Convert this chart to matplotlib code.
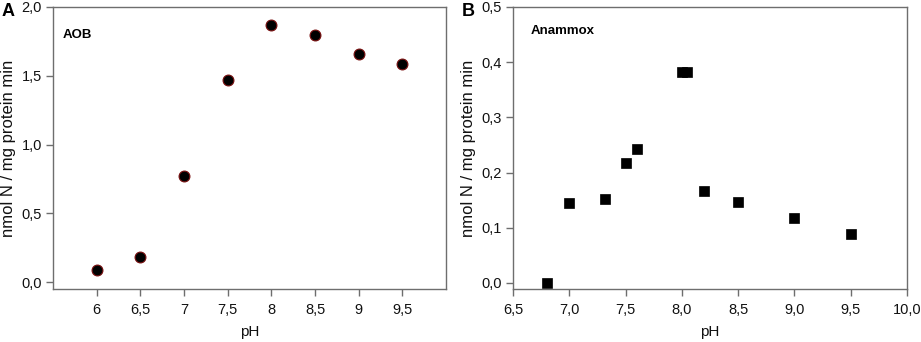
import matplotlib
matplotlib.use("Agg")
import matplotlib.pyplot as plt
from matplotlib.ticker import FixedLocator, FuncFormatter

plt.rcParams['font.family'] = ['Liberation Sans', 'DejaVu Sans']

# Panel A data (AOB)
ph_a = [6, 6.5, 7, 7.5, 8, 8.5, 9, 9.5]
rate_a = [0.085, 0.184, 0.771, 1.468, 1.867, 1.794, 1.661, 1.589]
xticks_a = [6, 6.5, 7, 7.5, 8, 8.5, 9, 9.5]
yticks_a = [0.0, 0.5, 1.0, 1.5, 2.0]

# Panel B data (Anammox)
ph_b = [6.8, 7.0, 7.32, 7.5, 7.6, 8.0, 8.05, 8.2, 8.5, 9.0, 9.5]
rate_b = [0.0, 0.145, 0.152, 0.217, 0.243, 0.383, 0.383, 0.166, 0.147, 0.118, 0.088]
xticks_b = [6.5, 7.0, 7.5, 8.0, 8.5, 9.0, 9.5, 10.0]
yticks_b = [0.0, 0.1, 0.2, 0.3, 0.4, 0.5]

W, H = 921, 342
fig = plt.figure(figsize=(W / 100, H / 100), dpi=100)

def px_axes(l, r, t, b):
    return fig.add_axes([l / W, (H - b) / H, (r - l) / W, (b - t) / H])

ax_a = px_axes(53, 446, 7, 289)
ax_b = px_axes(513, 907, 7, 289)

spine_col = '#6e6e6e'
for ax in (ax_a, ax_b):
    for s in ax.spines.values():
        s.set_color(spine_col)
        s.set_linewidth(1.0)
    ax.tick_params(direction='out', length=5, width=1.0, color=spine_col,
                   labelsize=10.5, labelcolor='#111111', top=False, right=False)
    ax.tick_params(axis='y', pad=3)
    ax.tick_params(axis='x', pad=5)
    ax.set_ylabel('nmol N / mg protein min', fontsize=12, color='#111111')
    ax.set_xlabel('pH', fontsize=11, color='#111111')
    ax.yaxis.set_label_coords(-0.114, 0.5)
    ax.xaxis.set_label_coords(0.5, -0.152)
    ax.xaxis.label.set_va('center')
    ax.yaxis.label.set_va('center')

comma1 = FuncFormatter(lambda v, p: f'{v:.1f}'.replace('.', ','))

def comma_short(v, p):
    return f'{v:g}'.replace('.', ',')

# Panel A
ax_a.plot(ph_a, rate_a, 'o', ms=7.8, mfc='black', mec='#7a1010', mew=0.8, ls='none')
ax_a.set_xlim(5.5, 10.0)
ax_a.set_ylim(-0.05, 2.0)
ax_a.xaxis.set_major_locator(FixedLocator(xticks_a))
ax_a.xaxis.set_major_formatter(FuncFormatter(comma_short))
ax_a.yaxis.set_major_locator(FixedLocator(yticks_a))
ax_a.yaxis.set_major_formatter(comma1)
ax_a.text(0.024, 0.9, 'AOB', transform=ax_a.transAxes, fontsize=9.5,
          fontweight='bold', va='center', ha='left')

# Panel B
ax_b.plot(ph_b, rate_b, 's', ms=6.8, mfc='black', mec='black', mew=0.5, ls='none')
ax_b.set_xlim(6.5, 10.0)
ax_b.set_ylim(-0.011, 0.5)
ax_b.xaxis.set_major_locator(FixedLocator(xticks_b))
ax_b.xaxis.set_major_formatter(comma1)
ax_b.yaxis.set_major_locator(FixedLocator(yticks_b))
ax_b.yaxis.set_major_formatter(comma1)
ax_b.text(0.045, 0.915, 'Anammox', transform=ax_b.transAxes, fontsize=9.5,
          fontweight='bold', va='center', ha='left')

# Panel letters
fig.text(2 / W, 1 - 11 / H, 'A', fontsize=13, fontweight='bold', va='center', ha='left')
fig.text(462 / W, 1 - 11 / H, 'B', fontsize=13, fontweight='bold', va='center', ha='left')

fig.savefig('out.png', dpi=100)
